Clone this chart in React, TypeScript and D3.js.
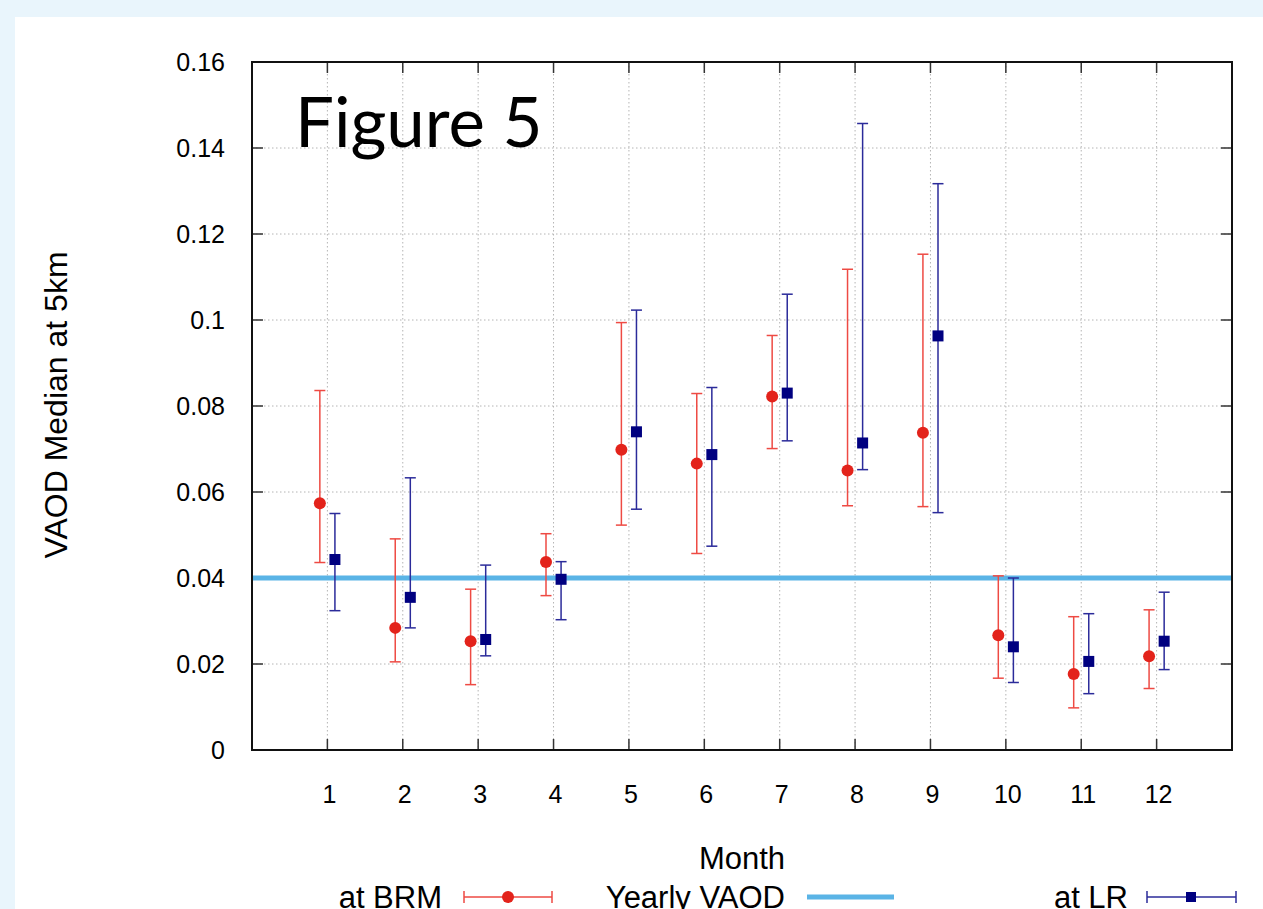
import React from "react";
import * as d3 from "d3";

const months = [1, 2, 3, 4, 5, 6, 7, 8, 9, 10, 11, 12];
const brmMedian = [0.0574, 0.0284, 0.0253, 0.0437, 0.0698, 0.0666, 0.0822, 0.065, 0.0738, 0.0267, 0.0177, 0.0218];
const brmLow = [0.0436, 0.0205, 0.0152, 0.0359, 0.0523, 0.0457, 0.0701, 0.0568, 0.0566, 0.0167, 0.0098, 0.0143];
const brmHigh = [0.0836, 0.0491, 0.0374, 0.0503, 0.0994, 0.0829, 0.0964, 0.1118, 0.1153, 0.0405, 0.031, 0.0326];
const lrMedian = [0.0443, 0.0355, 0.0257, 0.0397, 0.074, 0.0687, 0.083, 0.0714, 0.0963, 0.024, 0.0206, 0.0253];
const lrLow = [0.0324, 0.0284, 0.0219, 0.0303, 0.056, 0.0474, 0.0719, 0.0652, 0.0552, 0.0157, 0.0131, 0.0187];
const lrHigh = [0.055, 0.0633, 0.043, 0.0438, 0.1023, 0.0843, 0.106, 0.1457, 0.1317, 0.04, 0.0317, 0.0367];
const yearlyVAOD = 0.04;
const yTicks = [0, 0.02, 0.04, 0.06, 0.08, 0.1, 0.12, 0.14, 0.16];
const yTickLabels = ["0", "0.02", "0.04", "0.06", "0.08", "0.1", "0.12", "0.14", "0.16"];

const W = 1263;
const H = 909;
const L = 252, R = 1232, T = 62, B = 750;
const RED = "#e3231b";
const RED_BAR = "#ee4a43";
const NAVY = "#000080";
const NAVY_BAR = "#2b2b9a";
const SKY = "#5ab4e6";
const FONT = "'Liberation Sans', Arial, Helvetica, sans-serif";

export default function App() {
  const x = d3.scaleLinear().domain([0, 13]).range([L, R]);
  const y = d3.scaleLinear().domain([0, 0.16]).range([B, T]);
  const off = 0.1;
  const cap = 5.5;
  const tickLen = 11;

  const errBar = (cx: number, lo: number, hi: number, color: string, key: string) => (
    <g key={key} stroke={color} strokeWidth={1.5} fill="none">
      <line x1={cx} x2={cx} y1={y(lo)} y2={y(hi)} />
      <line x1={cx - cap} x2={cx + cap} y1={y(lo)} y2={y(lo)} />
      <line x1={cx - cap} x2={cx + cap} y1={y(hi)} y2={y(hi)} />
    </g>
  );

  return (
    <svg width={W} height={H} style={{ position: "absolute", left: 0, top: 0, display: "block" }}>
      <rect x={0} y={0} width={W} height={H} fill="#e9f5fc" />
      <rect x={15} y={17} width={W - 15} height={H - 17} fill="#ffffff" />

      {/* grid */}
      <g stroke="#b4b4b4" strokeWidth={1} strokeDasharray="1.5,2.5">
        {yTicks.slice(1, -1).map((t) => (
          <line key={"gy" + t} x1={L} x2={R} y1={y(t)} y2={y(t)} />
        ))}
        {months.map((m) => (
          <line key={"gx" + m} x1={x(m)} x2={x(m)} y1={T} y2={B} />
        ))}
      </g>

      {/* ticks */}
      <g stroke="#333" strokeWidth={1.5}>
        {yTicks.map((t) => (
          <g key={"ty" + t}>
            <line x1={L} x2={L + tickLen} y1={y(t)} y2={y(t)} />
            <line x1={R} x2={R - tickLen} y1={y(t)} y2={y(t)} />
          </g>
        ))}
        {months.map((m) => (
          <g key={"tx" + m}>
            <line x1={x(m)} x2={x(m)} y1={B} y2={B - tickLen} />
            <line x1={x(m)} x2={x(m)} y1={T} y2={T + tickLen} />
          </g>
        ))}
      </g>

      {/* yearly line */}
      <line x1={L} x2={R} y1={y(yearlyVAOD)} y2={y(yearlyVAOD)} stroke={SKY} strokeWidth={5} />

      {/* BRM */}
      {months.map((m, i) => errBar(x(m - off), brmLow[i], brmHigh[i], RED_BAR, "be" + m))}
      {months.map((m, i) => (
        <circle key={"bp" + m} cx={x(m - off)} cy={y(brmMedian[i])} r={6} fill={RED} />
      ))}

      {/* LR */}
      {months.map((m, i) => errBar(x(m + off), lrLow[i], lrHigh[i], NAVY_BAR, "le" + m))}
      {months.map((m, i) => (
        <rect key={"lp" + m} x={x(m + off) - 5.5} y={y(lrMedian[i]) - 5.5} width={11} height={11} fill={NAVY} />
      ))}

      {/* frame */}
      <rect x={L} y={T} width={R - L} height={B - T} fill="none" stroke="#111" strokeWidth={2} />

      {/* tick labels */}
      <g fontFamily={FONT} fontSize={25} fill="#000">
        {yTicks.map((t, i) => (
          <text key={"yl" + t} x={225} y={y(t)} dy="0.35em" textAnchor="end">
            {yTickLabels[i]}
          </text>
        ))}
        {months.map((m) => (
          <text key={"xl" + m} x={x(m) + 2} y={803} textAnchor="middle">
            {String(m)}
          </text>
        ))}
      </g>

      {/* axis titles */}
      <text x={(L + R) / 2} y={869} textAnchor="middle" fontFamily={FONT} fontSize={31}>
        Month
      </text>
      <text
        transform={`translate(67,405) rotate(-90)`}
        textAnchor="middle"
        fontFamily={FONT}
        fontSize={32}
      >
        VAOD Median at 5km
      </text>

      {/* Figure label */}
      <text x={295} y={147} fontFamily="Lato, 'Open Sans', sans-serif" fontSize={69} fill="#000">
        Figure 5
      </text>

      {/* legend */}
      <g fontFamily={FONT} fontSize={31}>
        <text x={442} y={908} textAnchor="end">at BRM</text>
        <g stroke={RED_BAR} strokeWidth={1.5}>
          <line x1={464} x2={552} y1={897} y2={897} />
          <line x1={464} x2={464} y1={891} y2={903} />
          <line x1={552} x2={552} y1={891} y2={903} />
        </g>
        <circle cx={508} cy={897} r={6} fill={RED} />

        <text x={785} y={908} textAnchor="end">Yearly VAOD</text>
        <line x1={807} x2={894} y1={897} y2={897} stroke={SKY} strokeWidth={5} />

        <text x={1128} y={908} textAnchor="end">at LR</text>
        <g stroke={NAVY_BAR} strokeWidth={1.5}>
          <line x1={1147} x2={1236} y1={897} y2={897} />
          <line x1={1147} x2={1147} y1={891} y2={903} />
          <line x1={1236} x2={1236} y1={891} y2={903} />
        </g>
        <rect x={1186} y={892} width={10} height={10} fill={NAVY} />
      </g>
    </svg>
  );
}
